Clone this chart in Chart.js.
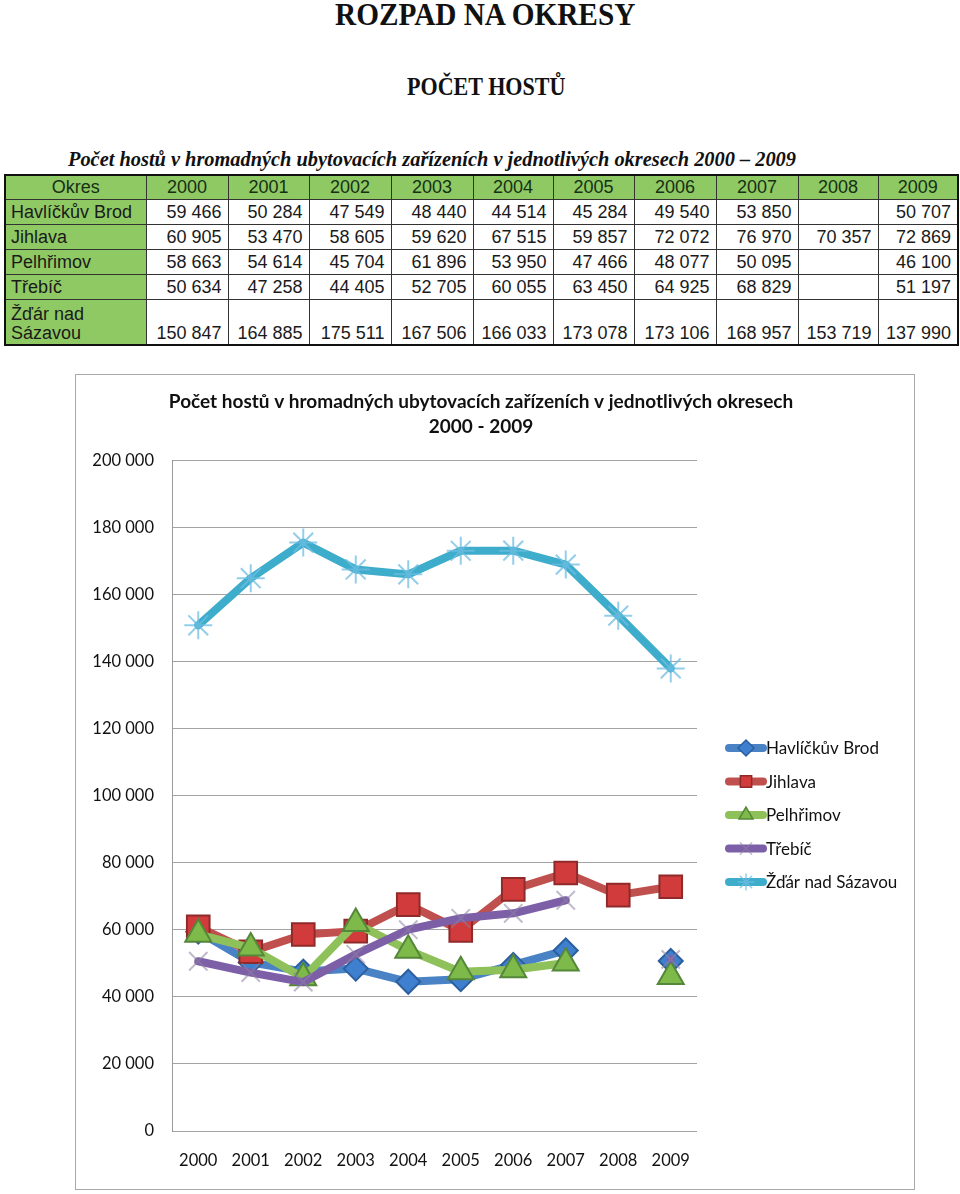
<!DOCTYPE html>
<html lang="cs">
<head>
<meta charset="utf-8">
<title>Rozpad na okresy</title>
<script src="https://cdn.jsdelivr.net/npm/chart.js@4.4.1/dist/chart.umd.min.js"></script>
<style>
  html, body { margin: 0; padding: 0; background: #fff; }
  body { width: 960px; height: 1194px; position: relative; overflow: hidden; }
  .fit { position: absolute; white-space: nowrap; transform-origin: 0 0; color: #111; }
  #h1 { font: bold 32px "Liberation Serif", serif; top: -4px; }
  #h2 { font: bold 25px "Liberation Serif", serif; top: 73px; }
  #cap { font: italic bold 20px "Liberation Serif", serif; top: 148px; left: 68px; }
  table {
    position: absolute; left: 4px; top: 174px;
    border-collapse: collapse; table-layout: fixed;
    font: 18px "Liberation Sans", Arial, sans-serif; color: #1a1a1a;
    border: 2px solid #111;
  }
  td { border: 1px solid #333; padding: 0 6px 0 0; text-align: right; height: 24px; line-height: 19px; vertical-align: middle; white-space: nowrap; overflow: hidden; }
  tr.head td { background: #8fc963; text-align: center; padding: 0; color: #163016; height: 23px; }
  td.okres { background: #8fc963; text-align: left; padding-left: 5px; }
  tr.last td { height: 43px; vertical-align: bottom; padding-bottom: 1px; }
  #box {
    position: absolute; left: 75px; top: 374px; width: 838px; height: 814px;
    border: 1px solid #a8a8a8;
  }
  #chart { display: block; }
</style>
</head>
<body>
<div id="h1" class="fit" data-w="300" data-cx="485">ROZPAD NA OKRESY</div>
<div id="h2" class="fit" data-w="158" data-cx="486">POČET HOSTŮ</div>
<div id="cap" class="fit" data-w="728">Počet hostů v hromadných ubytovacích zařízeních v jednotlivých okresech 2000 – 2009</div>

<table id="tab">
  <colgroup>
    <col style="width:141px"><col style="width:82px"><col style="width:81px"><col style="width:82px">
    <col style="width:82px"><col style="width:80px"><col style="width:81px"><col style="width:82px">
    <col style="width:82px"><col style="width:80px"><col style="width:80px">
  </colgroup>
  <tbody></tbody>
</table>

<div id="box"><canvas id="chart" width="838" height="814"></canvas></div>

<script>
// data
const years = ['2000', '2001', '2002', '2003', '2004', '2005', '2006', '2007', '2008', '2009'];
const okresy = ['Havlíčkův Brod', 'Jihlava', 'Pelhřimov', 'Třebíč', 'Žďár nad Sázavou'];
const havlickuvBrod = [59466, 50284, 47549, 48440, 44514, 45284, 49540, 53850, null, 50707];
const jihlava = [60905, 53470, 58605, 59620, 67515, 59857, 72072, 76970, 70357, 72869];
const pelhrimov = [58663, 54614, 45704, 61896, 53950, 47466, 48077, 50095, null, 46100];
const trebic = [50634, 47258, 44405, 52705, 60055, 63450, 64925, 68829, null, 51197];
const zdar = [150847, 164885, 175511, 167506, 166033, 173078, 173106, 168957, 153719, 137990];
const yTicks = [0, 20000, 40000, 60000, 80000, 100000, 120000, 140000, 160000, 180000, 200000];
const chartTitle = ['Počet hostů v hromadných ubytovacích zařízeních v jednotlivých okresech', '2000 - 2009'];

const fmt = v => (v === null ? '' : String(v).replace(/\B(?=(\d{3})+(?!\d))/g, ' '));

// nadpisy - zúžené písmo jako v předloze
document.querySelectorAll('.fit').forEach(el => {
  const s = +el.dataset.w / el.offsetWidth;
  el.style.transform = 'scaleX(' + s + ')';
  if (el.dataset.cx) el.style.left = (+el.dataset.cx - el.dataset.w / 2) + 'px';
});

// tabulka
const tbody = document.querySelector('#tab tbody');
let html = '<tr class="head"><td>Okres</td>' + years.map(y => '<td>' + y + '</td>').join('') + '</tr>';
const rows = [havlickuvBrod, jihlava, pelhrimov, trebic, zdar];
rows.forEach((r, i) => {
  const name = i === 4 ? 'Žďár nad<br>Sázavou' : okresy[i];
  html += '<tr' + (i === 4 ? ' class="last"' : '') + '><td class="okres">' + name + '</td>' +
    r.map(v => '<td>' + fmt(v) + '</td>').join('') + '</tr>';
});
tbody.innerHTML = html;

// graf
const series = [
  { data: havlickuvBrod, line: '#4a82c6', fill: '#3f7fcf', edge: '#2c5f9e', style: 'rectRot', r: 12 },
  { data: jihlava, line: '#c0504d', fill: '#d23b3b', edge: '#8e2a2a', style: 'rect', r: 16 },
  { data: pelhrimov, line: '#8fc15a', fill: '#7dba4a', edge: '#55873a', style: 'triangle', r: 15 },
  { data: trebic, line: '#7d5fa8', fill: 'rgba(0,0,0,0)', edge: 'rgba(140,130,160,0.55)', style: 'crossRot', r: 13 },
  { data: zdar, line: '#3eaccb', fill: 'rgba(0,0,0,0)', edge: 'rgba(110,190,225,0.75)', style: 'star', r: 14 }
];

const headerAndLegend = {
  id: 'headerAndLegend',
  afterDraw(chart) {
    const ctx = chart.ctx;
    ctx.save();
    ctx.fillStyle = '#111';
    ctx.textAlign = 'center';
    ctx.textBaseline = 'middle';
    ctx.font = 'bold 19px Lato';
    ctx.fillText(chartTitle[0], 405, 27);
    ctx.fillText(chartTitle[1], 405, 52);

    const x0 = chart.chartArea.right + 28;
    chart.data.datasets.forEach((ds, i) => {
      const y = 373 + i * 33.5;
      ctx.lineCap = 'round';
      ctx.lineWidth = 8;
      ctx.strokeStyle = ds.borderColor;
      ctx.beginPath();
      ctx.moveTo(x0 + 4, y);
      ctx.lineTo(x0 + 38, y);
      ctx.stroke();
      ctx.fillStyle = ds.pointBackgroundColor;
      ctx.strokeStyle = ds.pointBorderColor;
      ctx.lineWidth = 1.5;
      Chart.helpers.drawPoint(ctx, { pointStyle: ds.pointStyle, radius: 8, rotation: 0, borderWidth: 1.5 }, x0 + 21, y);
      ctx.fillStyle = '#111';
      ctx.textAlign = 'left';
      ctx.font = '17px Lato';
      ctx.fillText(ds.label, x0 + 41, y + 1);
    });
    ctx.restore();
  }
};

new Chart(document.getElementById('chart'), {
  type: 'line',
  data: {
    labels: years,
    datasets: series.map((s, i) => ({
      label: okresy[i],
      data: s.data,
      order: series.length - 1 - i,
      borderColor: s.line,
      borderWidth: 8,
      borderJoinStyle: 'round',
      borderCapStyle: 'round',
      tension: 0,
      pointStyle: s.style,
      pointRadius: s.r,
      pointBackgroundColor: s.fill,
      pointBorderColor: s.edge,
      pointBorderWidth: 2
    }))
  },
  options: {
    responsive: false,
    animation: false,
    devicePixelRatio: 1,
    layout: { padding: { left: 0, top: 85.5, right: 217, bottom: 0 } },
    plugins: {
      legend: { display: false },
      title: { display: false },
      tooltip: { enabled: false }
    },
    scales: {
      x: {
        offset: true,
        grid: { display: false, drawTicks: false },
        border: { display: false },
        ticks: { color: '#111', font: { family: 'Lato', size: 16.5 }, padding: 20, maxRotation: 0 },
        afterFit(scale) { scale.height = 58; }
      },
      y: {
        min: 0,
        max: 200000,
        afterBuildTicks(scale) { scale.ticks = yTicks.map(v => ({ value: v })); },
        grid: { color: '#a3a3a3', lineWidth: 1, drawTicks: false },
        border: { color: '#9a9a9a', width: 1 },
        ticks: { color: '#111', font: { family: 'Lato', size: 16.5 }, padding: 18, callback: v => fmt(v) },
        afterFit(scale) { scale.width = 96; }
      }
    }
  },
  plugins: [headerAndLegend]
});
</script>
</body>
</html>
